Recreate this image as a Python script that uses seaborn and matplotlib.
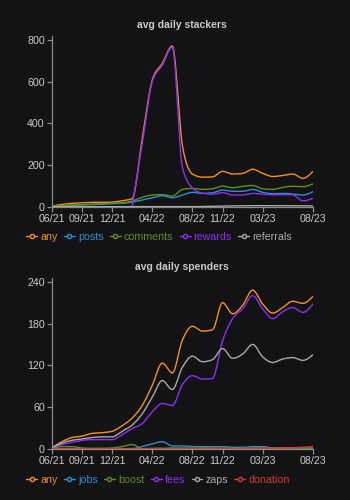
import numpy as np
import pandas as pd
import seaborn as sns
import matplotlib
matplotlib.use("Agg")
import matplotlib.pyplot as plt
from matplotlib.lines import Line2D

# Monthly averages, 06/21 .. 08/23
months = pd.date_range("2021-06-01", "2023-08-01", freq="MS")
month_labels = list(months.strftime("%m/%y"))
tick_labels = ["06/21", "09/21", "12/21", "04/22", "08/22", "11/22", "03/23", "08/23"]

# avg daily stackers
stack_any = [3, 11, 16, 19, 21, 21, 22, 29, 38, 325, 608, 688, 772, 295, 157,
             142, 143, 170, 157, 160, 180, 160, 145, 150, 157, 136, 170]
stack_posts = [2, 4, 6, 8, 10, 12, 14, 16, 22, 32, 42, 53, 43, 56, 69,
               64, 67, 80, 74, 74, 83, 69, 62, 64, 61, 56, 72]
stack_comments = [3, 6, 8, 10, 12, 14, 16, 19, 27, 45, 56, 58, 51, 83, 88,
                  83, 86, 99, 91, 98, 102, 86, 83, 93, 98, 96, 110]
stack_rewards = [np.nan] * 8 + [0, 300, 600, 680, 766, 190, 90,
                                65, 60, 68, 56, 56, 64, 60, 57, 58, 57, 28, 40]
stack_referrals = [0] * 15 + [1, 2, 3, 4, 4, 5, 5, 5, 5, 5, 4, 4]

# avg daily spenders
spend_any = [1, 10, 16, 18, 22, 23, 25, 33, 44, 62, 91, 123, 109, 156, 176,
             169, 171, 210, 194, 206, 228, 208, 195, 203, 212, 209, 219]
spend_jobs = [0, 0, 0, 0, 0, 0, 0, 0, 0, 3, 7, 10, 4, 4, 3,
              3, 3, 3, 2, 2, 3, 3, 1, 1, 1, 1, 0]
spend_boost = [0, 3, 3, 1, 0.5, 0.5, 1, 3, 6, 0, 0.5, 0.5, 1, 1, 1,
               1, 1, 1, 0.5, 0.5, 1, 1, 0.5, 0.5, 1, 1, 1]
spend_fees = [1, 6, 9, 12, 13, 13, 13, 20, 29, 36, 53, 65, 62, 92, 105,
              100, 101, 155, 187, 201, 220, 201, 187, 197, 203, 196, 208]
spend_zaps = [1, 8, 12, 14, 16, 17, 17, 25, 34, 50, 74, 98, 85, 117, 133,
              125, 128, 144, 130, 136, 150, 132, 124, 129, 131, 127, 135]
spend_donation = [0] * 21 + [0.5, 0.5, 1, 1.5, 2, 3]

BG = "#131315"
TEXT = "#c9c9c9"
AXIS = "#8a8a8a"
colors = {
    "any": "#f0921f",
    "posts": "#2b8fd4",
    "comments": "#5f8f1c",
    "rewards": "#8b2ff0",
    "referrals": "#a9a9a9",
    "jobs": "#2b8fd4",
    "boost": "#5f8f1c",
    "fees": "#8b2ff0",
    "zaps": "#a9a9a9",
    "donation": "#d8392b",
}

sns.set_theme(style="dark")
plt.rcParams["font.family"] = ["Liberation Sans", "DejaVu Sans"]


def monotone_curve(x, y, n=24):
    """Monotone cubic (Fritsch-Carlson style) curve through the points."""
    x = np.asarray(x, float)
    y = np.asarray(y, float)
    ok = ~np.isnan(y)
    x, y = x[ok], y[ok]
    h = np.diff(x)
    s = np.diff(y) / h
    m = np.zeros_like(y)
    for k in range(1, len(y) - 1):
        s0, s1 = s[k - 1], s[k]
        p = (s0 * h[k] + s1 * h[k - 1]) / (h[k - 1] + h[k])
        m[k] = (np.sign(s0) + np.sign(s1)) * min(abs(s0), abs(s1), 0.5 * abs(p))
    m[0] = (3 * s[0] - m[1]) / 2 if len(y) > 2 else s[0]
    m[-1] = (3 * s[-1] - m[-2]) / 2 if len(y) > 2 else s[-1]
    xs, ys = [], []
    for k in range(len(h)):
        t = np.linspace(0, 1, n, endpoint=False)
        h00 = 2 * t**3 - 3 * t**2 + 1
        h10 = t**3 - 2 * t**2 + t
        h01 = -2 * t**3 + 3 * t**2
        h11 = t**3 - t**2
        xs.append(x[k] + t * h[k])
        ys.append(h00 * y[k] + h10 * h[k] * m[k] + h01 * y[k + 1] + h11 * h[k] * m[k + 1])
    xs.append([x[-1]])
    ys.append([y[-1]])
    return np.concatenate(xs), np.concatenate(ys)


def build_frame(series):
    idx = np.arange(len(months))
    parts = []
    for name, vals in series.items():
        xs, ys = monotone_curve(idx, vals)
        parts.append(pd.DataFrame({"month": xs, "value": ys, "series": name}))
    return pd.concat(parts, ignore_index=True)


def draw_panel(ax, series, title, yticks, ymax, legend_y):
    df = build_frame(series)
    sns.lineplot(data=df, x="month", y="value", hue="series",
                 palette={k: colors[k] for k in series}, hue_order=list(series),
                 estimator=None, sort=False, linewidth=1.0, legend=False, ax=ax)
    ax.set_facecolor(BG)
    ax.set_xlim(0, len(months) - 1)
    ax.set_ylim(0, ymax)
    ax.set_xticks([month_labels.index(t) for t in tick_labels])
    ax.set_xticklabels(tick_labels)
    ax.set_yticks(yticks)
    ax.set_yticklabels([str(v) for v in yticks])
    ax.set_xlabel("")
    ax.set_ylabel("")
    ax.grid(False)
    for side in ("top", "right"):
        ax.spines[side].set_visible(False)
    for side in ("left", "bottom"):
        ax.spines[side].set_visible(True)
        ax.spines[side].set_color(AXIS)
        ax.spines[side].set_linewidth(0.9)
    ax.tick_params(axis="both", colors=AXIS, labelcolor=TEXT, labelsize=7.7,
                   length=3.5, width=0.9, pad=1.5, direction="out",
                   bottom=True, left=True)
    ax.set_title(title, color=TEXT, fontsize=7.5, fontweight="bold", pad=6)

    handles = [Line2D([0], [0], color=colors[k], lw=1.0, marker="o",
                      markersize=3.0, markerfacecolor=BG,
                      markeredgecolor=colors[k], markeredgewidth=1.0)
               for k in series]
    leg = ax.figure.legend(handles, list(series), loc="center left",
                           bbox_to_anchor=(0.075, legend_y), ncol=len(series),
                           frameon=False, fontsize=7.7, handlelength=1.0,
                           handletextpad=0.3, columnspacing=0.6,
                           borderaxespad=0, borderpad=0)
    for text, k in zip(leg.get_texts(), series):
        text.set_color(colors[k])


fig = plt.figure(figsize=(3.5, 5.0), dpi=100, facecolor=BG)
ax_top = fig.add_axes([0.148, 0.5866, 0.746, 0.3414])
ax_bot = fig.add_axes([0.148, 0.1026, 0.746, 0.3408])

draw_panel(ax_top,
           {"any": stack_any, "posts": stack_posts, "comments": stack_comments,
            "rewards": stack_rewards, "referrals": stack_referrals},
           "avg daily stackers", [0, 200, 400, 600, 800], 820, 1 - 237 / 500)
draw_panel(ax_bot,
           {"any": spend_any, "jobs": spend_jobs, "boost": spend_boost,
            "fees": spend_fees, "zaps": spend_zaps, "donation": spend_donation},
           "avg daily spenders", [0, 60, 120, 180, 240], 245, 1 - 480 / 500)

fig.savefig("out.png", dpi=100, facecolor=BG)
